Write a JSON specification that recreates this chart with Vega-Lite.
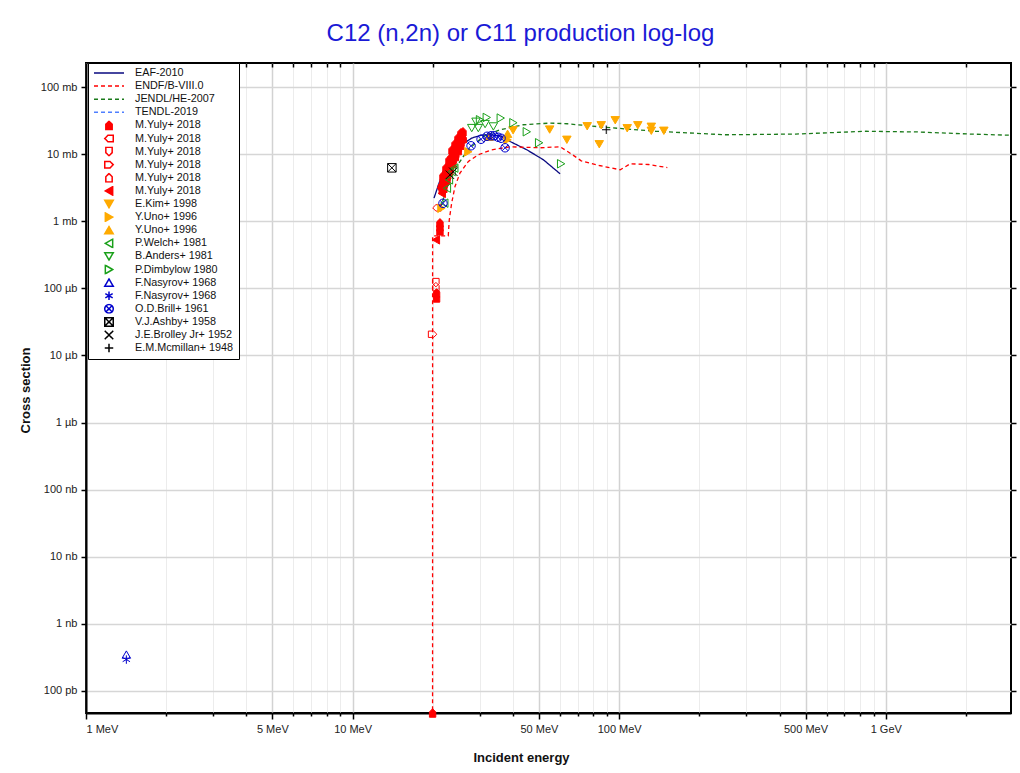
{
  "$schema": "https://vega.github.io/schema/vega-lite/v6.json",
  "width": 925,
  "height": 650,
  "autosize": {"type": "none"},
  "padding": {"left": 86, "top": 63, "right": 9, "bottom": 60},
  "background": "white",
  "title": {"text": "C12 (n,2n) or C11 production log-log", "fontSize": 24, "font": "Liberation Sans", "fontWeight": "normal", "color": "#1a1ad6", "anchor": "middle", "dx": -28, "offset": 16},
  "resolve": {"axis": {"x": "independent", "y": "independent"}},
  "config": {
    "view": {"stroke": "black", "strokeWidth": 2},
    "axis": {"labelFont": "Liberation Sans", "labelFontSize": 11, "labelColor": "#222", "titleFont": "Liberation Sans", "titleFontSize": 13, "titleFontWeight": "bold", "titleColor": "#111", "domainColor": "black", "domainWidth": 2, "tickColor": "black", "tickWidth": 1.5},
    "legend": {"labelFont": "Liberation Sans", "labelFontSize": 10.8, "labelColor": "#111", "fillColor": "white", "strokeColor": "black", "strokeWidth": 1, "padding": 5, "rowPadding": 2.1, "clipHeight": 10, "symbolStrokeWidth": 1.5, "labelLimit": 200, "symbolOffset": 10, "labelOffset": 20}
  },
  "datasets": {
    "curves": [
      {"E": 20.20, "s": 2.21, "series": "EAF-2010"},
      {"E": 21.00, "s": 3.49, "series": "EAF-2010"},
      {"E": 21.93, "s": 5.64, "series": "EAF-2010"},
      {"E": 23.60, "s": 9.61, "series": "EAF-2010"},
      {"E": 25.66, "s": 13.78, "series": "EAF-2010"},
      {"E": 27.99, "s": 17.35, "series": "EAF-2010"},
      {"E": 30.51, "s": 19.23, "series": "EAF-2010"},
      {"E": 32.78, "s": 19.43, "series": "EAF-2010"},
      {"E": 35.74, "s": 18.77, "series": "EAF-2010"},
      {"E": 38.97, "s": 15.44, "series": "EAF-2010"},
      {"E": 45.04, "s": 11.6, "series": "EAF-2010"},
      {"E": 51.98, "s": 8.23, "series": "EAF-2010"},
      {"E": 60.06, "s": 5.09, "series": "EAF-2010"},
      {"E": 19.95, "s": 1e-10, "series": "ENDF/B-VIII.0"},
      {"E": 19.96, "s": 0.605, "series": "ENDF/B-VIII.0"},
      {"E": 22.85, "s": 0.605, "series": "ENDF/B-VIII.0"},
      {"E": 23.05, "s": 1.05, "series": "ENDF/B-VIII.0"},
      {"E": 23.53, "s": 1.86, "series": "ENDF/B-VIII.0"},
      {"E": 24.22, "s": 3.29, "series": "ENDF/B-VIII.0"},
      {"E": 25.28, "s": 5.21, "series": "ENDF/B-VIII.0"},
      {"E": 27.18, "s": 7.77, "series": "ENDF/B-VIII.0"},
      {"E": 29.62, "s": 9.78, "series": "ENDF/B-VIII.0"},
      {"E": 33.27, "s": 11.6, "series": "ENDF/B-VIII.0"},
      {"E": 38.97, "s": 12.87, "series": "ENDF/B-VIII.0"},
      {"E": 50.52, "s": 12.43, "series": "ENDF/B-VIII.0"},
      {"E": 60.06, "s": 12.87, "series": "ENDF/B-VIII.0"},
      {"E": 66.07, "s": 10.1, "series": "ENDF/B-VIII.0"},
      {"E": 72.05, "s": 7.96, "series": "ENDF/B-VIII.0"},
      {"E": 84.20, "s": 6.77, "series": "ENDF/B-VIII.0"},
      {"E": 100.9, "s": 5.84, "series": "ENDF/B-VIII.0"},
      {"E": 110.1, "s": 7.18, "series": "ENDF/B-VIII.0"},
      {"E": 128.6, "s": 7.01, "series": "ENDF/B-VIII.0"},
      {"E": 151.6, "s": 6.30, "series": "ENDF/B-VIII.0"},
      {"E": 21.37, "s": 1.58, "series": "JENDL/HE-2007"},
      {"E": 22.54, "s": 3.11, "series": "JENDL/HE-2007"},
      {"E": 23.87, "s": 5.51, "series": "JENDL/HE-2007"},
      {"E": 26.02, "s": 9.22, "series": "JENDL/HE-2007"},
      {"E": 27.57, "s": 12.31, "series": "JENDL/HE-2007"},
      {"E": 30.93, "s": 18.33, "series": "JENDL/HE-2007"},
      {"E": 35.74, "s": 23.08, "series": "JENDL/HE-2007"},
      {"E": 43.73, "s": 27.39, "series": "JENDL/HE-2007"},
      {"E": 55.10, "s": 29.04, "series": "JENDL/HE-2007"},
      {"E": 63.83, "s": 28.35, "series": "JENDL/HE-2007"},
      {"E": 86.41, "s": 25.32, "series": "JENDL/HE-2007"},
      {"E": 136.7, "s": 21.91, "series": "JENDL/HE-2007"},
      {"E": 250.5, "s": 19.43, "series": "JENDL/HE-2007"},
      {"E": 459.0, "s": 19.90, "series": "JENDL/HE-2007"},
      {"E": 841.2, "s": 21.91, "series": "JENDL/HE-2007"},
      {"E": 1319, "s": 21.39, "series": "JENDL/HE-2007"},
      {"E": 2086, "s": 19.90, "series": "JENDL/HE-2007"},
      {"E": 2950, "s": 19.10, "series": "JENDL/HE-2007"}
    ],
    "points": [
      {"E": 21.54, "s": 3.37, "series": "M.Yuly+ 2018|1"},
      {"E": 21.83, "s": 3.87, "series": "M.Yuly+ 2018|1"},
      {"E": 22.11, "s": 4.44, "series": "M.Yuly+ 2018|1"},
      {"E": 22.40, "s": 5.09, "series": "M.Yuly+ 2018|1"},
      {"E": 22.59, "s": 5.84, "series": "M.Yuly+ 2018|1"},
      {"E": 22.89, "s": 6.70, "series": "M.Yuly+ 2018|1"},
      {"E": 23.19, "s": 7.69, "series": "M.Yuly+ 2018|1"},
      {"E": 23.39, "s": 8.82, "series": "M.Yuly+ 2018|1"},
      {"E": 23.70, "s": 9.78, "series": "M.Yuly+ 2018|1"},
      {"E": 24.01, "s": 10.84, "series": "M.Yuly+ 2018|1"},
      {"E": 24.22, "s": 12.43, "series": "M.Yuly+ 2018|1"},
      {"E": 24.53, "s": 13.32, "series": "M.Yuly+ 2018|1"},
      {"E": 24.85, "s": 14.76, "series": "M.Yuly+ 2018|1"},
      {"E": 25.07, "s": 16.36, "series": "M.Yuly+ 2018|1"},
      {"E": 25.39, "s": 17.52, "series": "M.Yuly+ 2018|1"},
      {"E": 25.72, "s": 19.43, "series": "M.Yuly+ 2018|1"},
      {"E": 25.95, "s": 21.54, "series": "M.Yuly+ 2018|1"},
      {"E": 21.83, "s": 4.75, "series": "M.Yuly+ 2018|1"},
      {"E": 22.40, "s": 6.25, "series": "M.Yuly+ 2018|1"},
      {"E": 22.99, "s": 8.23, "series": "M.Yuly+ 2018|1"},
      {"E": 23.60, "s": 11.6, "series": "M.Yuly+ 2018|1"},
      {"E": 24.22, "s": 14.27, "series": "M.Yuly+ 2018|1"},
      {"E": 24.85, "s": 17.52, "series": "M.Yuly+ 2018|1"},
      {"E": 25.50, "s": 20.81, "series": "M.Yuly+ 2018|1"},
      {"E": 21.7, "s": 3.0, "series": "M.Yuly+ 2018|1"},
      {"E": 22.25, "s": 3.9, "series": "M.Yuly+ 2018|1"},
      {"E": 22.75, "s": 5.0, "series": "M.Yuly+ 2018|1"},
      {"E": 23.3, "s": 6.6, "series": "M.Yuly+ 2018|1"},
      {"E": 23.85, "s": 8.4, "series": "M.Yuly+ 2018|1"},
      {"E": 24.4, "s": 10.3, "series": "M.Yuly+ 2018|1"},
      {"E": 24.95, "s": 12.6, "series": "M.Yuly+ 2018|1"},
      {"E": 25.5, "s": 15.2, "series": "M.Yuly+ 2018|1"},
      {"E": 22.0, "s": 3.1, "series": "M.Yuly+ 2018|1"},
      {"E": 22.6, "s": 4.2, "series": "M.Yuly+ 2018|1"},
      {"E": 23.15, "s": 5.6, "series": "M.Yuly+ 2018|1"},
      {"E": 23.7, "s": 7.3, "series": "M.Yuly+ 2018|1"},
      {"E": 24.3, "s": 9.2, "series": "M.Yuly+ 2018|1"},
      {"E": 24.9, "s": 11.3, "series": "M.Yuly+ 2018|1"},
      {"E": 25.45, "s": 13.6, "series": "M.Yuly+ 2018|1"},
      {"E": 26.0, "s": 17.0, "series": "M.Yuly+ 2018|1"},
      {"E": 21.27, "s": 0.946, "series": "M.Yuly+ 2018|1"},
      {"E": 21.27, "s": 0.824, "series": "M.Yuly+ 2018|1"},
      {"E": 21.27, "s": 0.719, "series": "M.Yuly+ 2018|1"},
      {"E": 20.66, "s": 0.0855, "series": "M.Yuly+ 2018|1"},
      {"E": 20.66, "s": 0.072, "series": "M.Yuly+ 2018|1"},
      {"E": 19.96, "s": 4.7e-8, "series": "M.Yuly+ 2018|1"},
      {"E": 20.72, "s": 1.58, "series": "M.Yuly+ 2018|2"},
      {"E": 20.54, "s": 0.1217, "series": "M.Yuly+ 2018|3"},
      {"E": 19.96, "s": 0.0207, "series": "M.Yuly+ 2018|4"},
      {"E": 20.54, "s": 0.106, "series": "M.Yuly+ 2018|5"},
      {"E": 20.54, "s": 0.528, "series": "M.Yuly+ 2018|6"},
      {"E": 21.45, "s": 3.15, "series": "M.Yuly+ 2018|6"},
      {"E": 21.6, "s": 2.6, "series": "M.Yuly+ 2018|6"},
      {"E": 40.0, "s": 22.68, "series": "E.Kim+ 1998"},
      {"E": 54.86, "s": 23.23, "series": "E.Kim+ 1998"},
      {"E": 63.65, "s": 16.36, "series": "E.Kim+ 1998"},
      {"E": 75.88, "s": 26.02, "series": "E.Kim+ 1998"},
      {"E": 84.20, "s": 14.03, "series": "E.Kim+ 1998"},
      {"E": 85.66, "s": 26.92, "series": "E.Kim+ 1998"},
      {"E": 96.67, "s": 31.98, "series": "E.Kim+ 1998"},
      {"E": 107.2, "s": 24.29, "series": "E.Kim+ 1998"},
      {"E": 117.5, "s": 26.92, "series": "E.Kim+ 1998"},
      {"E": 132.0, "s": 25.57, "series": "E.Kim+ 1998"},
      {"E": 132.0, "s": 22.29, "series": "E.Kim+ 1998"},
      {"E": 147.1, "s": 22.29, "series": "E.Kim+ 1998"},
      {"E": 21.54, "s": 1.56, "series": "Y.Uno+ 1996|1"},
      {"E": 27.18, "s": 10.84, "series": "Y.Uno+ 1996|1"},
      {"E": 38.14, "s": 16.36, "series": "Y.Uno+ 1996|1"},
      {"E": 38.14, "s": 20.11, "series": "Y.Uno+ 1996|2"},
      {"E": 32.50, "s": 18.15, "series": "Y.Uno+ 1996|2"},
      {"E": 22.08, "s": 1.86, "series": "P.Welch+ 1981"},
      {"E": 22.59, "s": 3.11, "series": "P.Welch+ 1981"},
      {"E": 22.99, "s": 4.14, "series": "P.Welch+ 1981"},
      {"E": 23.53, "s": 5.51, "series": "P.Welch+ 1981"},
      {"E": 24.07, "s": 6.19, "series": "P.Welch+ 1981"},
      {"E": 27.99, "s": 24.45, "series": "B.Anders+ 1981"},
      {"E": 29.62, "s": 24.45, "series": "B.Anders+ 1981"},
      {"E": 31.41, "s": 28.06, "series": "B.Anders+ 1981"},
      {"E": 33.73, "s": 25.84, "series": "B.Anders+ 1981"},
      {"E": 29.04, "s": 30.37, "series": "B.Anders+ 1981"},
      {"E": 30.06, "s": 32.52, "series": "P.Dimbylow 1980"},
      {"E": 31.87, "s": 35.19, "series": "P.Dimbylow 1980"},
      {"E": 35.96, "s": 34.47, "series": "P.Dimbylow 1980"},
      {"E": 40.11, "s": 29.35, "series": "P.Dimbylow 1980"},
      {"E": 45.04, "s": 21.54, "series": "P.Dimbylow 1980"},
      {"E": 50.09, "s": 14.76, "series": "P.Dimbylow 1980"},
      {"E": 60.58, "s": 7.18, "series": "P.Dimbylow 1980"},
      {"E": 1.417, "s": 3.49e-7, "series": "F.Nasyrov+ 1968|1"},
      {"E": 1.417, "s": 2.94e-7, "series": "F.Nasyrov+ 1968|2"},
      {"E": 21.83, "s": 1.85, "series": "O.D.Brill+ 1961"},
      {"E": 27.82, "s": 13.32, "series": "O.D.Brill+ 1961"},
      {"E": 30.33, "s": 16.65, "series": "O.D.Brill+ 1961"},
      {"E": 31.95, "s": 18.46, "series": "O.D.Brill+ 1961"},
      {"E": 33.07, "s": 18.77, "series": "O.D.Brill+ 1961"},
      {"E": 33.94, "s": 18.77, "series": "O.D.Brill+ 1961"},
      {"E": 35.14, "s": 17.83, "series": "O.D.Brill+ 1961"},
      {"E": 36.06, "s": 17.23, "series": "O.D.Brill+ 1961"},
      {"E": 37.33, "s": 12.43, "series": "O.D.Brill+ 1961"},
      {"E": 14.04, "s": 6.25, "series": "V.J.Ashby+ 1958"},
      {"E": 23.19, "s": 4.92, "series": "J.E.Brolley Jr+ 1952"},
      {"E": 23.87, "s": 5.45, "series": "J.E.Brolley Jr+ 1952"},
      {"E": 89.43, "s": 23.08, "series": "E.M.Mcmillan+ 1948"}
    ]
  },
  "layer": [
    {
      "data": {"name": "curves"},
      "mark": {"type": "line", "clip": true, "strokeWidth": 1.3},
      "encoding": {
        "x": {"field": "E", "type": "quantitative", "title": "Incident energy",
          "scale": {"type": "log", "domain": [1, 2950], "nice": false},
          "axis": {
            "values": [1,2,3,4,5,6,7,8,9,10,20,30,40,50,60,70,80,90,100,200,300,400,500,600,700,800,900,1000,2000],
            "labelExpr": "datum.value == 1000 ? '1 GeV' : (indexof([1,5,10,50,100,500], datum.value) >= 0 ? datum.value + ' MeV' : '')",
            "labelOverlap": false, "labelPadding": 4,
            "gridColor": {"condition": {"test": "indexof([1,5,10,50,100,500,1000], datum.value) >= 0", "value": "#d2d2d2"}, "value": "#ececec"},
            "gridWidth": {"condition": {"test": "indexof([1,5,10,50,100,500,1000], datum.value) >= 0", "value": 1.5}, "value": 1},
            "tickSize": {"condition": {"test": "indexof([1,5,10,50,100,500,1000], datum.value) >= 0", "value": 6}, "value": 3},
            "titleX": 435, "titleY": 44, "titleBaseline": "middle", "titleAlign": "center"
          }
        },
        "y": {"field": "s", "type": "quantitative", "title": "Cross section",
          "scale": {"type": "log", "domain": [4.7e-8, 228], "nice": false},
          "axis": {
            "values": [1e-7,1e-6,1e-5,1e-4,0.001,0.01,0.1,1,10,100],
            "labelExpr": "['100 pb','1 nb','10 nb','100 nb','1 µb','10 µb','100 µb','1 mb','10 mb','100 mb'][round(log(datum.value)/LN10)+7]",
            "gridColor": "#d6d6d6", "gridWidth": 1.5, "tickSize": 5, "labelPadding": 4,
            "titleX": -61, "titleY": 327, "titleAngle": -90, "titleBaseline": "middle", "titleAlign": "center"
          }
        },
        "stroke": {"field": "series", "type": "nominal", "legend": {"title": null, "orient": "none", "legendX": 2, "legendY": 0, "labelExpr": "split(datum.label,'|')[0]"},
          "scale": {"domain": ["EAF-2010","ENDF/B-VIII.0","JENDL/HE-2007","TENDL-2019","M.Yuly+ 2018|1","M.Yuly+ 2018|2","M.Yuly+ 2018|3","M.Yuly+ 2018|4","M.Yuly+ 2018|5","M.Yuly+ 2018|6","E.Kim+ 1998","Y.Uno+ 1996|1","Y.Uno+ 1996|2","P.Welch+ 1981","B.Anders+ 1981","P.Dimbylow 1980","F.Nasyrov+ 1968|1","F.Nasyrov+ 1968|2","O.D.Brill+ 1961","V.J.Ashby+ 1958","J.E.Brolley Jr+ 1952","E.M.Mcmillan+ 1948"],
            "range": ["#0a0a80","#ff0000","#1a7a1a","#4f7fff","#ff0000","#ff0000","#ff0000","#ff0000","#ff0000","#ff0000","#ffaa00","#ffaa00","#ffaa00","#1aa01a","#1aa01a","#1aa01a","#0000cc","#0000cc","#0000cc","#000000","#000000","#000000"]}},
        "strokeDash": {"field": "series", "type": "nominal", "legend": {"title": null, "orient": "none", "legendX": 2, "legendY": 0, "labelExpr": "split(datum.label,'|')[0]"},
          "scale": {"domain": ["EAF-2010","ENDF/B-VIII.0","JENDL/HE-2007","TENDL-2019","M.Yuly+ 2018|1","M.Yuly+ 2018|2","M.Yuly+ 2018|3","M.Yuly+ 2018|4","M.Yuly+ 2018|5","M.Yuly+ 2018|6","E.Kim+ 1998","Y.Uno+ 1996|1","Y.Uno+ 1996|2","P.Welch+ 1981","B.Anders+ 1981","P.Dimbylow 1980","F.Nasyrov+ 1968|1","F.Nasyrov+ 1968|2","O.D.Brill+ 1961","V.J.Ashby+ 1958","J.E.Brolley Jr+ 1952","E.M.Mcmillan+ 1948"],
            "range": [[1,0],[4,3],[4,3],[4,3],[1,0],[1,0],[1,0],[1,0],[1,0],[1,0],[1,0],[1,0],[1,0],[1,0],[1,0],[1,0],[1,0],[1,0],[1,0],[1,0],[1,0],[1,0]]}}
      }
    },
    {
      "data": {"name": "points"},
      "mark": {"type": "point", "clip": false, "opacity": 1, "strokeWidth": 1},
      "encoding": {
        "x": {"field": "E", "type": "quantitative", "axis": null},
        "y": {"field": "s", "type": "quantitative", "axis": null},
        "stroke": {"field": "series", "type": "nominal"},
        "fill": {"field": "series", "type": "nominal", "legend": {"title": null, "orient": "none", "legendX": 2, "legendY": 0, "labelExpr": "split(datum.label,'|')[0]"},
          "scale": {"domain": ["EAF-2010","ENDF/B-VIII.0","JENDL/HE-2007","TENDL-2019","M.Yuly+ 2018|1","M.Yuly+ 2018|2","M.Yuly+ 2018|3","M.Yuly+ 2018|4","M.Yuly+ 2018|5","M.Yuly+ 2018|6","E.Kim+ 1998","Y.Uno+ 1996|1","Y.Uno+ 1996|2","P.Welch+ 1981","B.Anders+ 1981","P.Dimbylow 1980","F.Nasyrov+ 1968|1","F.Nasyrov+ 1968|2","O.D.Brill+ 1961","V.J.Ashby+ 1958","J.E.Brolley Jr+ 1952","E.M.Mcmillan+ 1948"],
            "range": ["transparent","transparent","transparent","transparent","#ff0000","transparent","transparent","transparent","transparent","#ff0000","#ffaa00","#ffaa00","#ffaa00","transparent","transparent","transparent","transparent","transparent","transparent","transparent","transparent","transparent"]}},
        "shape": {"field": "series", "type": "nominal", "legend": {"title": null, "orient": "none", "legendX": 2, "legendY": 0, "labelExpr": "split(datum.label,'|')[0]"},
          "scale": {"domain": ["EAF-2010","ENDF/B-VIII.0","JENDL/HE-2007","TENDL-2019","M.Yuly+ 2018|1","M.Yuly+ 2018|2","M.Yuly+ 2018|3","M.Yuly+ 2018|4","M.Yuly+ 2018|5","M.Yuly+ 2018|6","E.Kim+ 1998","Y.Uno+ 1996|1","Y.Uno+ 1996|2","P.Welch+ 1981","B.Anders+ 1981","P.Dimbylow 1980","F.Nasyrov+ 1968|1","F.Nasyrov+ 1968|2","O.D.Brill+ 1961","V.J.Ashby+ 1958","J.E.Brolley Jr+ 1952","E.M.Mcmillan+ 1948"],
            "range": ["M-3,0L3,0","M-3,0L3,0","M-3,0L3,0","M-3,0L3,0",
              "M-0.75,1L0.75,1L0.75,-0.25L0,-1L-0.75,-0.25Z",
              "M1,-0.75L1,0.75L-0.25,0.75L-1,0L-0.25,-0.75Z",
              "M-0.75,-1L0.75,-1L0.75,0.25L0,1L-0.75,0.25Z",
              "M-1,-0.75L-1,0.75L0.25,0.75L1,0L0.25,-0.75Z",
              "M-0.75,1L0.75,1L0.75,-0.25L0,-1L-0.75,-0.25Z",
              "triangle-left","triangle-down","triangle-right","triangle-up","triangle-left","triangle-down","triangle-right","triangle-up",
              "M0,-1L0,1M-0.87,-0.5L0.87,0.5M-0.87,0.5L0.87,-0.5",
              "M-1,0A1,1,0,1,1,1,0A1,1,0,1,1,-1,0ZM-0.7,-0.7L0.7,0.7M-0.7,0.7L0.7,-0.7",
              "M-1,-1L1,-1L1,1L-1,1ZM-1,-1L1,1M-1,1L1,-1",
              "M-1,-1L1,1M-1,1L1,-1",
              "M0,-1L0,1M-1,0L1,0"]}},
        "size": {"field": "series", "type": "nominal", "legend": {"title": null, "orient": "none", "legendX": 2, "legendY": 0, "labelExpr": "split(datum.label,'|')[0]"},
          "scale": {"type": "ordinal", "domain": ["EAF-2010","ENDF/B-VIII.0","JENDL/HE-2007","TENDL-2019","M.Yuly+ 2018|1","M.Yuly+ 2018|2","M.Yuly+ 2018|3","M.Yuly+ 2018|4","M.Yuly+ 2018|5","M.Yuly+ 2018|6","E.Kim+ 1998","Y.Uno+ 1996|1","Y.Uno+ 1996|2","P.Welch+ 1981","B.Anders+ 1981","P.Dimbylow 1980","F.Nasyrov+ 1968|1","F.Nasyrov+ 1968|2","O.D.Brill+ 1961","V.J.Ashby+ 1958","J.E.Brolley Jr+ 1952","E.M.Mcmillan+ 1948"],
            "range": [100,100,100,100,72,72,72,72,72,72,72,72,72,72,72,72,72,72,72,72,72,72]}}
      }
    },
    {
      "data": {"name": "points"},
      "mark": {"type": "point", "opacity": 0},
      "encoding": {
        "x": {"field": "E", "type": "quantitative",
          "axis": {"orient": "top", "values": [2,3,4,5,6,7,8,9,20,30,40,50,60,70,80,90,200,300,400,500,600,700,800,900,2000], "labels": false, "grid": false, "domain": false, "tickSize": -4, "title": null}},
        "y": {"field": "s", "type": "quantitative",
          "axis": {"orient": "right", "values": [1e-7,1e-6,1e-5,1e-4,0.001,0.01,0.1,1,10,100], "labels": false, "grid": false, "domain": false, "tickSize": 5, "title": null}}
      }
    }
  ]
}
